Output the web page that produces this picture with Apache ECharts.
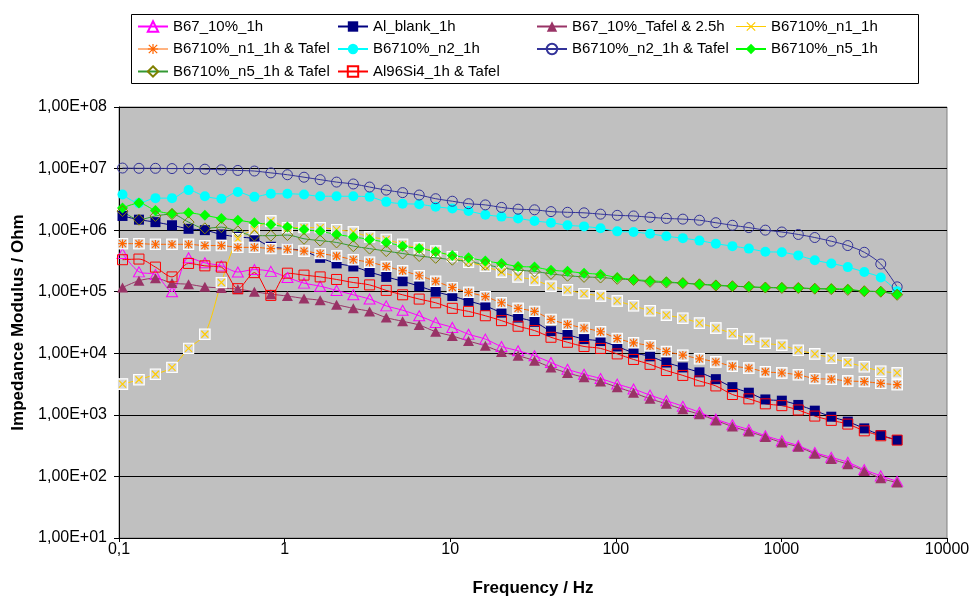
<!DOCTYPE html>
<html>
<head>
<meta charset="utf-8">
<script src="https://cdn.jsdelivr.net/npm/echarts@6/dist/echarts.min.js"></script>
<style>
  html, body { margin: 0; padding: 0; background: #ffffff; }
  #chart { width: 969px; height: 599px; }
</style>
</head>
<body>
<div id="chart"></div>
<script>
// Measurement frequencies (Hz), low to high
const freqHz = [0.105, 0.132, 0.166, 0.209, 0.263, 0.33, 0.415, 0.522, 0.657, 0.826,
  1.04, 1.31, 1.64, 2.06, 2.6, 3.26, 4.11, 5.16, 6.5, 8.17,
  10.3, 12.9, 16.3, 20.4, 25.7, 32.3, 40.6, 51.1, 64.3, 80.9,
  102, 128, 161, 202, 254, 320, 402, 506, 636, 800,
  1006, 1265, 1591, 2001, 2517, 3166, 3982, 5000];

// Impedance modulus |Z| (Ohm) per sample, same order as freqHz
const zB67_10_1h = [4.17e5, 2.1e5, 1.9e5, 1.00e5, 3.55e5, 2.95e5, 2.63e5, 2.09e5, 2.29e5, 2.14e5,
  1.70e5, 1.38e5, 1.23e5, 1.05e5, 8.91e4, 7.59e4, 5.89e4, 5.01e4, 4.07e4, 3.16e4,
  2.63e4, 2.04e4, 1.70e4, 1.29e4, 1.10e4, 9.12e3, 7.08e3, 5.50e3, 4.57e3, 3.89e3,
  3.16e3, 2.63e3, 2.09e3, 1.70e3, 1.38e3, 1.10e3, 8.51e2, 6.92e2, 5.75e2, 4.57e2,
  3.80e2, 3.16e2, 2.45e2, 2.04e2, 1.70e2, 1.29e2, 1.02e2, 8.32e1];
const zAlBlank_1h = [1.70e6, 1.48e6, 1.35e6, 1.20e6, 1.05e6, 1.00e6, 8.51e5, 7.76e5, 7.24e5, 5.37e5,
  5.01e5, 4.57e5, 3.55e5, 2.88e5, 2.57e5, 2.09e5, 1.74e5, 1.48e5, 1.23e5, 1.00e5,
  8.51e4, 7.08e4, 5.89e4, 4.57e4, 3.80e4, 3.24e4, 2.29e4, 2.00e4, 1.70e4, 1.58e4,
  1.29e4, 1.02e4, 8.91e3, 7.08e3, 5.89e3, 4.90e3, 3.80e3, 2.82e3, 2.29e3, 1.78e3,
  1.70e3, 1.45e3, 1.17e3, 9.33e2, 7.76e2, 6.03e2, 4.68e2, 3.89e2];
const zB67_10_Tafel25h = [1.17e5, 1.51e5, 1.66e5, 1.38e5, 1.32e5, 1.20e5, 1.15e5, 1.10e5, 1.00e5, 9.12e4,
  8.51e4, 7.76e4, 7.24e4, 6.17e4, 5.37e4, 4.79e4, 3.80e4, 3.31e4, 2.88e4, 2.24e4,
  1.91e4, 1.58e4, 1.32e4, 1.05e4, 9.12e3, 7.59e3, 5.89e3, 4.79e3, 4.07e3, 3.47e3,
  2.82e3, 2.29e3, 1.82e3, 1.51e3, 1.23e3, 1.02e3, 8.13e2, 6.46e2, 5.37e2, 4.37e2,
  3.55e2, 3.02e2, 2.34e2, 1.91e2, 1.58e2, 1.23e2, 9.33e1, 7.94e1];
const zN1_1h = [3.16e3, 3.72e3, 4.57e3, 5.89e3, 1.20e4, 2.04e4, 1.41e5, 7.24e5, 1.02e6, 1.41e6,
  1.10e6, 1.10e6, 1.10e6, 1.02e6, 9.33e5, 7.76e5, 7.08e5, 5.89e5, 5.13e5, 4.57e5,
  3.72e5, 3.02e5, 2.57e5, 2.09e5, 1.74e5, 1.55e5, 1.23e5, 1.07e5, 9.33e4, 8.51e4,
  7.08e4, 5.89e4, 4.90e4, 4.17e4, 3.72e4, 3.09e4, 2.57e4, 2.09e4, 1.70e4, 1.45e4,
  1.35e4, 1.12e4, 9.77e3, 8.32e3, 7.08e3, 6.03e3, 5.13e3, 4.79e3];
const zN1_1h_Tafel = [6.03e5, 6.03e5, 5.89e5, 5.89e5, 5.89e5, 5.62e5, 5.62e5, 5.25e5, 5.25e5, 5.01e5,
  4.90e5, 4.57e5, 4.17e5, 3.80e5, 3.31e5, 3.02e5, 2.57e5, 2.19e5, 1.82e5, 1.48e5,
  1.17e5, 9.77e4, 8.32e4, 6.61e4, 5.37e4, 4.79e4, 3.55e4, 2.95e4, 2.57e4, 2.24e4,
  1.74e4, 1.48e4, 1.32e4, 1.07e4, 9.33e3, 8.13e3, 7.24e3, 6.17e3, 5.75e3, 5.01e3,
  4.79e3, 4.47e3, 3.89e3, 3.80e3, 3.55e3, 3.47e3, 3.24e3, 3.09e3];
const zN2_1h = [3.80e6, 2.75e6, 3.31e6, 3.31e6, 4.47e6, 3.55e6, 3.24e6, 4.17e6, 3.47e6, 3.89e6,
  3.89e6, 3.80e6, 3.55e6, 3.55e6, 3.55e6, 3.47e6, 2.88e6, 2.69e6, 2.63e6, 2.40e6,
  2.24e6, 2.04e6, 1.78e6, 1.66e6, 1.55e6, 1.41e6, 1.32e6, 1.20e6, 1.15e6, 1.07e6,
  9.55e5, 9.33e5, 8.71e5, 7.94e5, 7.41e5, 6.76e5, 6.03e5, 5.50e5, 5.01e5, 4.47e5,
  4.37e5, 3.89e5, 3.24e5, 2.88e5, 2.51e5, 2.09e5, 1.70e5, 1.02e5];
const zN2_1h_Tafel = [1.02e7, 1.01e7, 1.01e7, 1.00e7, 1.00e7, 9.77e6, 9.55e6, 9.33e6, 9.12e6, 8.51e6,
  7.94e6, 7.24e6, 6.61e6, 6.03e6, 5.62e6, 5.01e6, 4.47e6, 4.07e6, 3.72e6, 3.24e6,
  2.95e6, 2.69e6, 2.57e6, 2.34e6, 2.19e6, 2.14e6, 2.00e6, 1.95e6, 1.91e6, 1.82e6,
  1.74e6, 1.70e6, 1.62e6, 1.55e6, 1.51e6, 1.45e6, 1.32e6, 1.20e6, 1.10e6, 1.00e6,
  9.33e5, 8.51e5, 7.59e5, 6.61e5, 5.62e5, 4.37e5, 2.82e5, 1.20e5];
const zN5_1h = [2.29e6, 2.75e6, 2.09e6, 1.86e6, 1.91e6, 1.74e6, 1.55e6, 1.45e6, 1.32e6, 1.23e6,
  1.12e6, 1.02e6, 9.55e5, 8.51e5, 7.76e5, 7.08e5, 6.31e5, 5.50e5, 5.01e5, 4.47e5,
  3.89e5, 3.55e5, 3.16e5, 2.88e5, 2.57e5, 2.51e5, 2.24e5, 2.14e5, 2.00e5, 1.91e5,
  1.70e5, 1.58e5, 1.51e5, 1.45e5, 1.38e5, 1.32e5, 1.29e5, 1.23e5, 1.20e5, 1.17e5,
  1.17e5, 1.15e5, 1.12e5, 1.12e5, 1.10e5, 1.02e5, 1.00e5, 9.12e4];
const zN5_1h_Tafel = [2.04e6, 1.48e6, 1.70e6, 1.82e6, 1.35e6, 1.07e6, 1.12e6, 9.55e5, 8.13e5, 8.13e5,
  8.32e5, 7.24e5, 6.76e5, 6.31e5, 5.50e5, 5.01e5, 4.57e5, 4.17e5, 3.80e5, 3.55e5,
  3.31e5, 3.09e5, 2.75e5, 2.45e5, 2.24e5, 2.14e5, 1.95e5, 1.82e5, 1.74e5, 1.70e5,
  1.62e5, 1.55e5, 1.45e5, 1.41e5, 1.38e5, 1.32e5, 1.26e5, 1.23e5, 1.20e5, 1.17e5,
  1.15e5, 1.15e5, 1.12e5, 1.10e5, 1.07e5, 1.02e5, 1.00e5, 8.91e4];
const zAl96Si4_Tafel = [3.31e5, 3.39e5, 2.51e5, 1.74e5, 2.88e5, 2.63e5, 2.51e5, 1.12e5, 2.04e5, 8.71e4,
  2.00e5, 1.86e5, 1.74e5, 1.58e5, 1.41e5, 1.29e5, 1.05e5, 8.91e4, 7.59e4, 6.61e4,
  5.37e4, 4.79e4, 4.07e4, 3.39e4, 2.75e4, 2.34e4, 1.82e4, 1.51e4, 1.29e4, 1.20e4,
  9.77e3, 7.94e3, 6.61e3, 5.25e3, 4.37e3, 3.55e3, 2.95e3, 2.14e3, 1.82e3, 1.51e3,
  1.41e3, 1.20e3, 9.55e2, 8.13e2, 7.08e2, 5.50e2, 4.57e2, 3.89e2];

// Tick labels, one per decade
const xTickLabels = ['0,1', '1', '10', '100', '1000', '10000'];
const yTickLabels = ['1,00E+01', '1,00E+02', '1,00E+03', '1,00E+04', '1,00E+05', '1,00E+06', '1,00E+07', '1,00E+08'];

const FONT = '"Liberation Sans", Arial, Helvetica, sans-serif';

// Cross / asterisk glyphs; in the plot they sit on a light square with a white rim
const X_PATH = 'M5 5L19 19M19 5L5 19';
const STAR_PATH = 'M5 5L19 19M19 5L5 19M12 3.5V20.5M3.5 12H20.5';
function svgUri(svg) {
  return 'image://data:image/svg+xml;charset=utf-8,' + encodeURIComponent(svg);
}
function boxedGlyph(strokeColor, pathD) {
  return svgUri("<svg xmlns='http://www.w3.org/2000/svg' width='24' height='24' viewBox='0 0 24 24'>" +
    "<rect x='1.5' y='1.5' width='21' height='21' fill='#d8d8d8' stroke='#ffffff' stroke-width='2.6'/>" +
    "<path d='" + pathD + "' stroke='" + strokeColor + "' stroke-width='2.3' fill='none'/></svg>");
}
// Legend swatch: a horizontal line with the glyph in its middle (30 x 13 box)
function legendGlyph(strokeColor, pathD) {
  return svgUri("<svg xmlns='http://www.w3.org/2000/svg' width='60' height='26' viewBox='0 0 60 26'>" +
    "<line x1='0' y1='13' x2='60' y2='13' stroke='" + strokeColor + "' stroke-width='2'/>" +
    "<g transform='translate(15.6 -1.4) scale(1.2)'><path d='" + pathD + "' stroke='" + strokeColor +
    "' stroke-width='2' fill='none'/></g></svg>");
}
const xMark = boxedGlyph('#FFCC00', X_PATH);
const starMark = boxedGlyph('#FF6600', STAR_PATH);
const xIcon = legendGlyph('#FFCC00', X_PATH);
const starIcon = legendGlyph('#FF6600', STAR_PATH);

const pairs = arr => freqHz.map((f, i) => [f, arr[i]]);

function makeSeries(name, values, lineColor, symbol, size, fill, border) {
  return {
    name: name,
    type: 'line',
    data: pairs(values),
    smooth: 0.3,
    showAllSymbol: true,
    symbol: symbol,
    symbolSize: size,
    color: lineColor,
    lineStyle: { color: lineColor, width: 1 },
    itemStyle: { color: fill, borderColor: border, borderWidth: border ? 1 : 0 },
    emphasis: { disabled: true }
  };
}

const series = [
  makeSeries('B67_10%_1h', zB67_10_1h, '#FF00FF', 'triangle', [11, 10], 'rgba(0,0,0,0)', '#FF00FF'),
  makeSeries('Al_blank_1h', zAlBlank_1h, '#000080', 'rect', 10, '#000080', null),
  makeSeries('B67_10%_Tafel & 2.5h', zB67_10_Tafel25h, '#993366', 'triangle', [11, 10], '#993366', null),
  makeSeries('B6710%_n1_1h', zN1_1h, '#FFCC00', xMark, 12, '#FFCC00', null),
  makeSeries('B6710%_n1_1h & Tafel', zN1_1h_Tafel, '#FF6600', starMark, 12, '#FF6600', null),
  makeSeries('B6710%_n2_1h', zN2_1h, '#00FFFF', 'circle', 10, '#00FFFF', null),
  makeSeries('B6710%_n2_1h & Tafel', zN2_1h_Tafel, '#333399', 'circle', 10, 'rgba(0,0,0,0)', '#333399'),
  makeSeries('B6710%_n5_1h', zN5_1h, '#00FF00', 'diamond', 11, '#00FF00', null),
  makeSeries('B6710%_n5_1h & Tafel', zN5_1h_Tafel, '#339933', 'diamond', 11, 'rgba(0,0,0,0)', '#808000'),
  makeSeries('Al96Si4_1h & Tafel', zAl96Si4_Tafel, '#FF0000', 'rect', 10, 'rgba(0,0,0,0)', '#FF0000')
];

// Legend laid out in four columns
const legendIcons = { 'B6710%_n1_1h': xIcon, 'B6710%_n1_1h & Tafel': starIcon };
const legendColumns = [
  { left: 137, names: ['B67_10%_1h', 'B6710%_n1_1h & Tafel', 'B6710%_n5_1h & Tafel'] },
  { left: 337, names: ['Al_blank_1h', 'B6710%_n2_1h', 'Al96Si4_1h & Tafel'] },
  { left: 536, names: ['B67_10%_Tafel & 2.5h', 'B6710%_n2_1h & Tafel'] },
  { left: 735, names: ['B6710%_n1_1h', 'B6710%_n5_1h'] }
];

const legends = legendColumns.map(col => ({
  orient: 'vertical',
  left: col.left,
  top: 19,
  padding: 0,
  itemWidth: 30,
  itemHeight: 13,
  itemGap: 7.5,
  selectedMode: false,
  data: col.names.map(n => legendIcons[n] ? { name: n, icon: legendIcons[n] } : n),
  textStyle: { color: '#000', fontSize: 15, fontFamily: FONT, lineHeight: 15 }
}));

const chart = echarts.init(document.getElementById('chart'), null, { renderer: 'canvas' });
chart.setOption({
  animation: false,
  backgroundColor: '#ffffff',
  graphic: [{
    type: 'rect',
    left: 131, top: 14,
    shape: { width: 787, height: 69 },
    style: { fill: '#ffffff', stroke: '#000000', lineWidth: 1 },
    z: -1
  }],
  legend: legends,
  grid: {
    left: 119, right: 22, top: 107, bottom: 61,
    outerBoundsMode: 'none',
    containLabel: false,
    show: true,
    backgroundColor: '#C0C0C0',
    borderColor: '#808080',
    borderWidth: 1
  },
  xAxis: {
    type: 'log',
    logBase: 10,
    min: 0.1,
    max: 10000,
    name: 'Frequency / Hz',
    nameLocation: 'middle',
    nameGap: 42,
    nameTextStyle: { fontSize: 17, fontWeight: 'bold', color: '#000', fontFamily: FONT },
    axisLine: { onZero: false, lineStyle: { color: '#000', width: 1 } },
    axisTick: { show: true, length: 4, lineStyle: { color: '#000' } },
    axisLabel: {
      margin: 4,
      fontSize: 16,
      color: '#000',
      fontFamily: FONT,
      formatter: v => xTickLabels[Math.round(Math.log10(v)) + 1]
    },
    splitLine: { show: false },
    minorTick: { show: false }
  },
  yAxis: {
    type: 'log',
    logBase: 10,
    min: 10,
    max: 1e8,
    name: 'Impedance Modulus / Ohm',
    nameLocation: 'middle',
    nameGap: 87,
    nameTextStyle: { fontSize: 17, fontWeight: 'bold', color: '#000', fontFamily: FONT },
    axisLine: { show: true, lineStyle: { color: '#000', width: 1 } },
    axisTick: { show: true, length: 5, lineStyle: { color: '#000' } },
    axisLabel: {
      margin: 12,
      fontSize: 16,
      color: '#000',
      fontFamily: FONT,
      formatter: v => yTickLabels[Math.round(Math.log10(v)) - 1]
    },
    splitLine: { show: true, lineStyle: { color: '#000', width: 1 } }
  },
  series: series
});
</script>
</body>
</html>
